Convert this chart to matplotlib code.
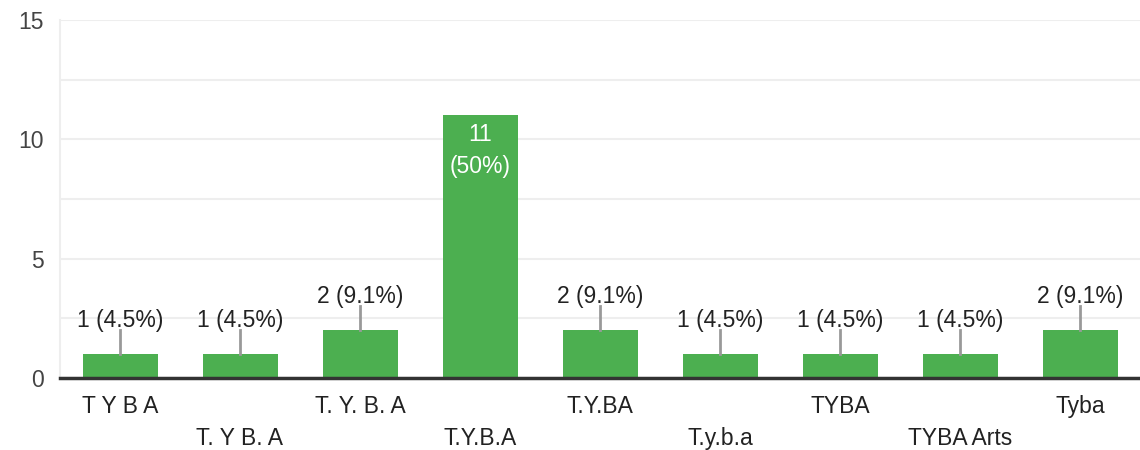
import numpy as np
import matplotlib.pyplot as plt

plt.rcParams['font.family'] = ['Liberation Sans', 'DejaVu Sans']

labels = ['T Y B A', 'T. Y B. A', 'T. Y. B. A', 'T.Y.B.A', 'T.Y.BA',
          'T.y.b.a', 'TYBA', 'TYBA Arts', 'Tyba']
counts = [1, 1, 2, 11, 2, 1, 1, 1, 2]
pcts = ['4.5%', '4.5%', '9.1%', '50%', '9.1%', '4.5%', '4.5%', '4.5%', '9.1%']

fig = plt.figure(figsize=(11.4, 4.5), dpi=100)
ax = fig.add_axes([60/1140, 1-378/450, 1080/1140, 358/450])

x = np.arange(len(labels))
ax.bar(x, counts, width=0.625, color='#4caf50', zorder=3)

ax.set_xlim(-0.5, len(labels)-0.5)
ax.set_ylim(0, 15)
ax.set_yticks([0, 5, 10, 15])
ax.set_yticks([2.5, 7.5, 12.5], minor=True)
ax.grid(axis='y', which='both', color='#eeeeee', linewidth=1.5, zorder=0)
ax.tick_params(axis='y', which='both', length=0, labelsize=16.5, colors='#444444', pad=11.5)
ax.tick_params(axis='x', length=0)
ax.set_xticks([])

for s in ['top', 'right']:
    ax.spines[s].set_visible(False)
ax.spines['left'].set_color('#eeeeee')
ax.spines['left'].set_linewidth(1.5)
ax.spines['bottom'].set_color('#333333')
ax.spines['bottom'].set_linewidth(2.5)
ax.spines['bottom'].set_zorder(5)

# units per pixel on the y axis
upp = 15 / 358.0
for i, (c, p) in enumerate(zip(counts, pcts)):
    if c >= 5:
        ax.text(i, c - 8*upp, f'{c}\n({p})', ha='center', va='top', color='white',
                fontsize=16.5, linespacing=1.45, zorder=4)
    else:
        ax.plot([i, i], [c, c + 24*upp], color='#999999', linewidth=2, zorder=4)
        ax.text(i, c + 34*upp, f'{c} ({p})', ha='center', va='center', color='#222222',
                fontsize=16.5, zorder=4)

for i, lab in enumerate(labels):
    y = -25.2 if i % 2 == 0 else -48.2
    ax.annotate(lab, (i, 0), xytext=(0, y), textcoords='offset points',
                ha='center', va='baseline', fontsize=16.5, color='#222222',
                annotation_clip=False)

fig.savefig('out.png', dpi=100)
